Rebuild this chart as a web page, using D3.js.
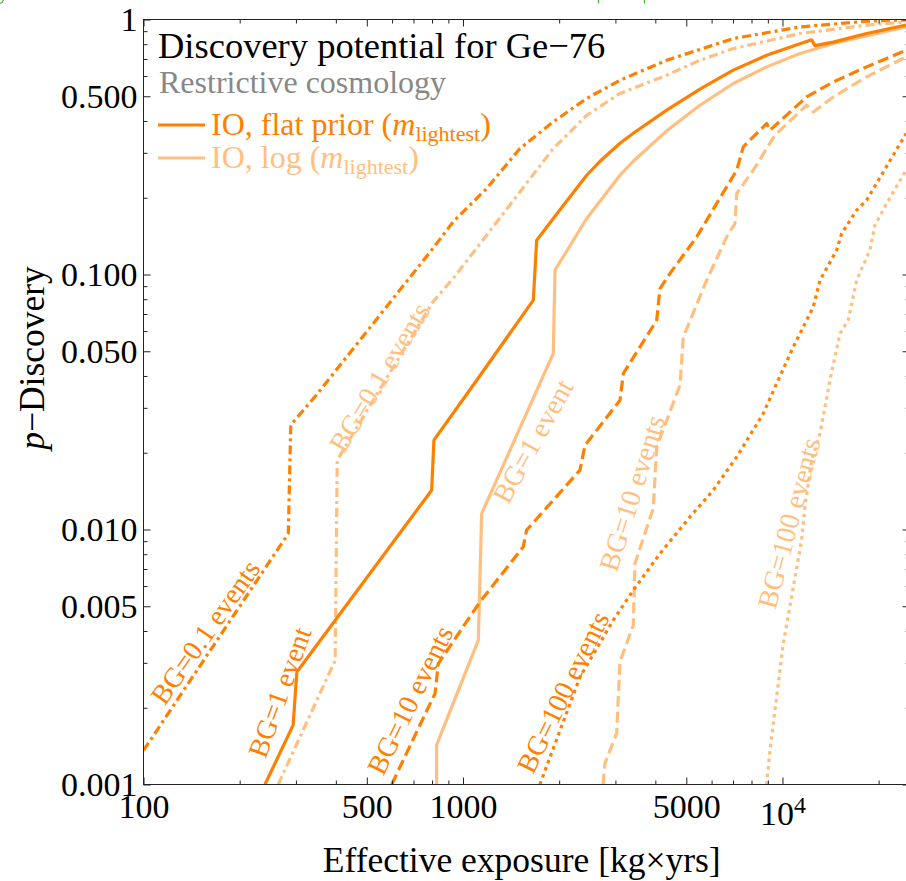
<!DOCTYPE html>
<html>
<head>
<meta charset="utf-8">
<script src="https://cdn.jsdelivr.net/npm/d3@7"></script>
<style>
  html, body { margin: 0; padding: 0; background: #fff; }
  svg { display: block; font-family: "Liberation Serif", "DejaVu Serif", serif; }
</style>
</head>
<body>
<svg id="chart" width="906" height="881"></svg>
<script>
// Discovery probability for Ge-76 (inverted ordering) vs effective exposure [kg x yrs].
// Each series: [exposure, p-discovery] pairs.
const flatBG01 = [[100,0.00136],[284,0.00965],[289,0.0257],[347,0.0336],[805,0.1265],[932,0.161],[1186,0.2175],[1508,0.312],[1917,0.397],[2439,0.49],[3100,0.578],[4341,0.692],[7015,0.842],[11345,0.935],[18340,0.985],[24360,0.996]];
const logBG01  = [[264,0.001],[398,0.00307],[404,0.0187],[535,0.0336],[805,0.0781],[932,0.0965],[1186,0.1426],[1508,0.211],[1917,0.312],[2439,0.421],[3100,0.513],[4341,0.605],[5518,0.692],[7015,0.769],[11345,0.881],[18340,0.95],[24360,0.979]];
const flatBG1  = [[240,0.001],[294,0.00171],[302,0.00276],[798,0.01426],[811,0.0224],[1104,0.0385],[1660,0.0793],[1701,0.1363],[1917,0.1658],[2439,0.245],[2685,0.278],[3100,0.327],[3412,0.358],[4341,0.441],[5518,0.533],[7015,0.633],[8923,0.724],[11345,0.804],[12340,0.832],[12640,0.79],[14420,0.815],[18340,0.881],[24360,0.95]];
const logBG1   = [[827,0.001],[827,0.00143],[1117,0.00368],[1144,0.01155],[1917,0.049],[1941,0.104],[2439,0.1658],[3100,0.245],[3412,0.278],[4341,0.366],[5518,0.461],[7015,0.561],[8923,0.652],[11345,0.736],[14420,0.805],[24360,0.935]];
const flatBG10 = [[598,0.001],[818,0.00228],[837,0.00298],[1130,0.0052],[1544,0.00855],[1582,0.00994],[2324,0.0171],[2409,0.0214],[3100,0.0321],[3176,0.0409],[4040,0.0662],[4136,0.0881],[4445,0.1009],[5389,0.1404],[6225,0.19],[7191,0.2564],[7541,0.3165],[8923,0.391],[9139,0.368],[11900,0.497],[14420,0.569],[18340,0.652],[24360,0.758]];
const logBG10  = [[2745,0.001],[2782,0.00121],[3027,0.00159],[3100,0.00303],[3412,0.00421],[3454,0.00736],[3941,0.0121],[4040,0.0211],[4778,0.0368],[4893,0.0569],[5792,0.095],[6690,0.1404],[7102,0.1585],[7191,0.2078],[8102,0.2564],[9474,0.352],[11900,0.461],[12490,0.434],[14420,0.497],[18340,0.596],[24360,0.713]];
const flatBG100 = [[1740,0.001],[2324,0.00264],[2954,0.00441],[3412,0.00578],[4136,0.00805],[5133,0.0112],[6073,0.01426],[7191,0.01926],[8708,0.0285],[9592,0.0374],[10810,0.052],[12490,0.0746],[13110,0.095],[14780,0.1246],[15320,0.1448],[17070,0.1788],[18340,0.1956],[24360,0.357]];
const logBG100  = [[8924,0.001],[9139,0.00136],[10060,0.00357],[11480,0.00908],[11760,0.01227],[12340,0.0187],[13110,0.0238],[14080,0.0385],[15140,0.0587],[16070,0.0662],[17070,0.095],[18780,0.1246],[19480,0.1561],[21190,0.19],[24360,0.2564]];

// Axis ticks
const xMajorTicks = [100, 500, 1000, 5000, 10000];
const xTickLabels = ["100", "500", "1000", "5000", "10^4"];
const xMinorTicks = [200, 300, 400, 600, 700, 800, 900, 2000, 3000, 4000, 6000, 7000, 8000, 9000, 20000];
const yMajorTicks = [1, 0.5, 0.1, 0.05, 0.01, 0.005, 0.001];
const yTickLabels = ["1", "0.500", "0.100", "0.050", "0.010", "0.005", "0.001"];
const yMinorTicks = [0.9, 0.8, 0.7, 0.6, 0.4, 0.3, 0.2, 0.09, 0.08, 0.07, 0.06, 0.04, 0.03, 0.02, 0.009, 0.008, 0.007, 0.006, 0.004, 0.003, 0.002];

// Background-level labels placed along the curves: [exposure, p]
const bgLabels = [
  { text: "BG=0.1 events", at: [156, 0.00396], prior: "flat", angle: -55 },
  { text: "BG=1 event",    at: [267, 0.0023],  prior: "flat", angle: -70 },
  { text: "BG=10 events",  at: [683, 0.00214], prior: "flat", angle: -64 },
  { text: "BG=100 events", at: [2056, 0.0023], prior: "flat", angle: -64 },
  { text: "BG=0.1 events", at: [548, 0.0395],  prior: "log",  angle: -59 },
  { text: "BG=1 event",    at: [1656, 0.0222], prior: "log",  angle: -61 },
  { text: "BG=10 events",  at: [3381, 0.01388], prior: "log", angle: -72.5 },
  { text: "BG=100 events", at: [10480, 0.01059], prior: "log", angle: -75 }
];

const DARK = "#ff8000", LIGHT = "#ffbf80";
const dashes = { solid: null, dotdash: "9,4,3,4", dashed: "11,5", dotted: "3.5,4" };

const series = [
  { data: flatBG01, color: DARK,  dash: dashes.dotdash },
  { data: logBG01,  color: LIGHT, dash: dashes.dotdash },
  { data: logBG1,   color: LIGHT, dash: dashes.solid },
  { data: flatBG1,  color: DARK,  dash: dashes.solid },
  { data: logBG10,  color: LIGHT, dash: dashes.dashed },
  { data: flatBG10, color: DARK,  dash: dashes.dashed },
  { data: logBG100, color: LIGHT, dash: dashes.dotted },
  { data: flatBG100, color: DARK, dash: dashes.dotted }
];

const svg = d3.select("#chart");
const plotL = 143.5, plotR = 909.6, plotT = 19.5, plotB = 784.5;

const x = d3.scaleLog().domain([100, 25000]).range([plotL, plotR]);
const y = d3.scaleLog().domain([0.001, 1]).range([plotB, plotT]);

svg.append("defs").append("clipPath").attr("id", "plotArea")
  .append("rect").attr("x", plotL).attr("y", plotT)
  .attr("width", plotR - plotL).attr("height", plotB - plotT);

// curves
const line = d3.line().x(d => x(d[0])).y(d => y(d[1]));
const curves = svg.append("g").attr("clip-path", "url(#plotArea)");
series.forEach(s => {
  curves.append("path")
    .attr("d", line(s.data))
    .attr("fill", "none")
    .attr("stroke", s.color)
    .attr("stroke-width", 3.2)
    .attr("stroke-linejoin", "round")
    .attr("stroke-dasharray", s.dash);
});

// axes (ticks point inward, mirrored on all four sides)
function styleAxis(g) {
  g.select(".domain").remove();
  g.selectAll(".tick line").attr("stroke", "#222").attr("stroke-width", 1);
}
const majorLen = 7, minorLen = 4;

const gBottom = svg.append("g").attr("transform", `translate(0,${plotB})`)
  .call(d3.axisBottom(x).tickValues(xMajorTicks).tickSize(-majorLen).tickPadding(9.5)
    .tickFormat((d, i) => xTickLabels[i]));
gBottom.call(styleAxis);
svg.append("g").attr("transform", `translate(0,${plotB})`)
  .call(d3.axisBottom(x).tickValues(xMinorTicks).tickSize(-minorLen).tickFormat(""))
  .call(styleAxis);
svg.append("g").attr("transform", `translate(0,${plotT})`)
  .call(d3.axisTop(x).tickValues(xMajorTicks).tickSize(-majorLen).tickFormat(""))
  .call(styleAxis);
svg.append("g").attr("transform", `translate(0,${plotT})`)
  .call(d3.axisTop(x).tickValues(xMinorTicks).tickSize(-minorLen).tickFormat(""))
  .call(styleAxis);

const gLeft = svg.append("g").attr("transform", `translate(${plotL},0)`)
  .call(d3.axisLeft(y).tickValues(yMajorTicks).tickSize(-majorLen).tickPadding(6)
    .tickFormat((d, i) => yTickLabels[i]));
gLeft.call(styleAxis);
svg.append("g").attr("transform", `translate(${plotL},0)`)
  .call(d3.axisLeft(y).tickValues(yMinorTicks).tickSize(-minorLen).tickFormat(""))
  .call(styleAxis);
svg.append("g").attr("transform", `translate(${plotR},0)`)
  .call(d3.axisRight(y).tickValues(yMajorTicks).tickSize(-majorLen).tickFormat(""))
  .call(styleAxis);
svg.append("g").attr("transform", `translate(${plotR},0)`)
  .call(d3.axisRight(y).tickValues(yMinorTicks).tickSize(-minorLen).tickFormat(""))
  .call(styleAxis);

[gBottom, gLeft].forEach(g => g.selectAll("text")
  .attr("font-family", "Liberation Serif").attr("font-size", 34).attr("fill", "#000"));

// power-of-ten label with a superscript
gBottom.selectAll(".tick text").filter(d => d === 10000).each(function () {
  const t = d3.select(this);
  const [base, exp] = t.text().split("^");
  t.text(null).attr("dy", "0.92em");
  t.append("tspan").text(base);
  t.append("tspan").text(exp).attr("font-size", 24).attr("dy", "-0.5em");
});

// frame
svg.append("rect").attr("x", plotL).attr("y", plotT)
  .attr("width", plotR - plotL).attr("height", plotB - plotT)
  .attr("fill", "none").attr("stroke", "#222").attr("stroke-width", 1);

// axis titles
svg.append("text")
  .attr("x", (plotL + 906) / 2 - 3).attr("y", 871.5)
  .attr("text-anchor", "middle").attr("font-size", 35.5)
  .text("Effective exposure [kg×yrs]");

const yTitle = svg.append("text")
  .attr("transform", "translate(44,358) rotate(-90)")
  .attr("text-anchor", "middle").attr("font-size", 35.5);
yTitle.append("tspan").attr("font-style", "italic").text("p");
yTitle.append("tspan").text("−Discovery");

// legend
const legend = svg.append("g");
legend.append("text").attr("x", 158).attr("y", 58).attr("font-size", 36.5)
  .attr("fill", "#000").text("Discovery potential for Ge−76");
legend.append("text").attr("x", 159).attr("y", 93).attr("font-size", 32)
  .attr("fill", "#888").text("Restrictive cosmology");

const legendItems = [
  { label: "IO, flat prior (", color: DARK, y: 135 },
  { label: "IO, log (", color: LIGHT, y: 168 }
];
legendItems.forEach(item => {
  legend.append("line")
    .attr("x1", 158).attr("x2", 205)
    .attr("y1", item.y - 10).attr("y2", item.y - 10)
    .attr("stroke", item.color).attr("stroke-width", 3.2);
  const t = legend.append("text").attr("x", 211).attr("y", item.y)
    .attr("font-size", 32).attr("fill", item.color);
  t.append("tspan").text(item.label);
  t.append("tspan").attr("font-style", "italic").text("m");
  t.append("tspan").attr("font-size", 22).attr("dy", 6).text("lightest");
  t.append("tspan").attr("dy", -6).text(")");
});

// BG labels along the curves
svg.append("g").selectAll("text").data(bgLabels).join("text")
  .attr("transform", d => `translate(${x(d.at[0])},${y(d.at[1])}) rotate(${d.angle})`)
  .attr("text-anchor", "middle")
  .attr("dominant-baseline", "central")
  .attr("font-size", 28)
  .attr("fill", d => d.prior === "flat" ? DARK : LIGHT)
  .text(d => d.text);

// small green marks along the top border
svg.append("path")
  .attr("d", "M598.5,0V3.5M644.5,0V3.5M0,3.5Q2.5,3 3.5,0")
  .attr("fill", "none").attr("stroke", "#3cb43c").attr("stroke-width", 1.2);
</script>
</body>
</html>
